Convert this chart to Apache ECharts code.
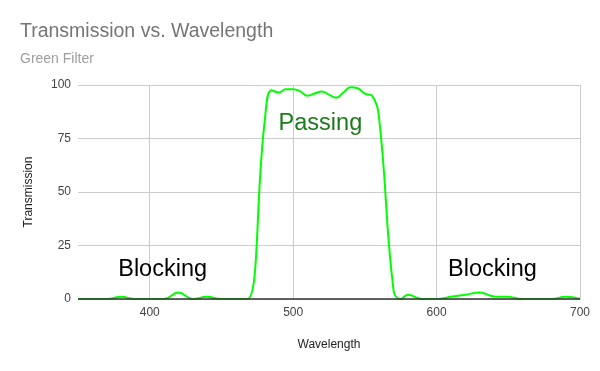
<!DOCTYPE html>
<html>
<head>
<meta charset="utf-8">
<script src="https://cdn.jsdelivr.net/npm/echarts@6/dist/echarts.min.js"></script>
<style>html,body{margin:0;padding:0;background:#fff}#c{width:600px;height:371px}</style>
</head>
<body>
<div id="c"></div>
<script>
const wavelengths = [350,360,370,380,390,400,410,420,430,440,450,460,468,480,485,490,495,500,505,510,515,520,525,530,535,540,545,550,555,560,570,575,580,590,600,610,620,630,640,650,660,670,680,690,700];
const transmission = [0,0,0,1,0,0,0,3,0,1,0,0,0,82,97.5,96.5,98,98,97,95,96,97,95.5,94,96.5,99,98.5,96,95,84,4,0,2,0,0,1,2,3,1.2,1,0,0,0,1,0];
const xTicks = [400,500,600,700];
const annotations = [
  {text:'Passing', x:519, y:82, color:'#1b7a1b'},
  {text:'Blocking', x:409, y:14, color:'#000000'},
  {text:'Blocking', x:639, y:14, color:'#000000'}
];

const chart = echarts.init(document.getElementById('c'), null, {renderer:'canvas'});
const font = 'Liberation Sans, Arial, sans-serif';
chart.setOption({
  animation:false,
  backgroundColor:'#ffffff',
  title:{
    text:'Transmission vs. Wavelength',
    subtext:'Green Filter',
    left:15, top:17,
    itemGap:10,
    textStyle:{fontFamily:font,fontSize:19.5,fontWeight:'normal',color:'#757575'},
    subtextStyle:{fontFamily:font,fontSize:14,color:'#9e9e9e'}
  },
  grid:{left:78,right:20,top:85,bottom:72,containLabel:false},
  xAxis:{
    type:'value', min:350, max:700,
    name:'Wavelength', nameLocation:'middle', nameGap:40,
    nameTextStyle:{fontFamily:font,fontSize:12,color:'#222'},
    axisLine:{show:false},
    axisTick:{show:false},
    axisLabel:{fontFamily:font,fontSize:12,color:'#444',margin:8,
      customValues:xTicks, formatter:v=>String(v)},
    splitLine:{show:false}
  },
  yAxis:{
    type:'value', min:0, max:100, interval:25,
    name:'Transmission', nameLocation:'middle', nameGap:43,
    nameTextStyle:{fontFamily:font,fontSize:12,color:'#222'},
    axisLine:{show:false},
    axisTick:{show:false},
    axisLabel:{fontFamily:font,fontSize:12,color:'#444',margin:7},
    splitLine:{show:true,lineStyle:{color:'#cccccc',width:1}}
  },
  series:[
    {
      type:'line',
      name:'grid',
      data:[],
      markLine:{
        silent:true, symbol:'none', label:{show:false},
        lineStyle:{color:'#cccccc',width:1,type:'solid'},
        data:xTicks.map(v=>({xAxis:v})),
        z:1
      },
      z:1
    },
    {
      type:'line',
      data:wavelengths.map((w,i)=>[w,transmission[i]]),
      smooth:0.45,
      showSymbol:false,
      symbol:'none',
      lineStyle:{color:'#00ff00',width:2},
      z:3,
      markLine:{
        silent:true, symbol:'none', label:{show:false},
        lineStyle:{color:'#333333',width:1.5,type:'solid'},
        data:[{yAxis:0}],
        z:4
      },
      markPoint:{
        symbol:'circle',
        symbolSize:1,
        silent:true,
        itemStyle:{color:'rgba(0,0,0,0)'},
        data:annotations.map(a=>({coord:[a.x,a.y],value:a.text,
          label:{show:true,formatter:a.text,color:a.color,fontFamily:font,fontSize:23.5,position:'inside'}}))
      }
    }
  ]
});
</script>
</body>
</html>
